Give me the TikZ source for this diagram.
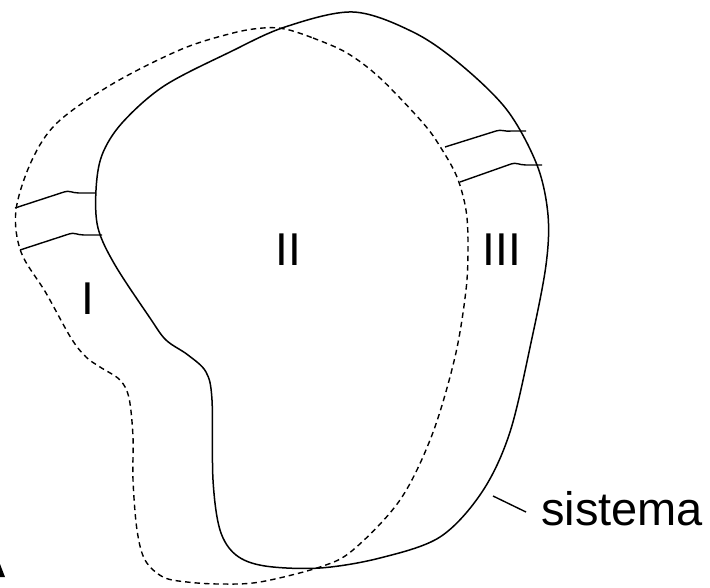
\documentclass[tikz,border=0pt]{standalone}
\usepackage{fontspec}
\setmainfont{Liberation Sans}
\begin{document}
\begin{tikzpicture}[x=1pt,y=-1pt,
  sysline/.style={line width=1.5pt,line join=round},
  cvline/.style={line width=1.4pt,dash pattern=on 5.5pt off 4pt},
  pipeline/.style={line width=1.4pt},
  lab/.style={inner sep=0pt,anchor=base,font=\fontsize{46}{46}\selectfont}]
\useasboundingbox (0,0) rectangle (710,587);
% system boundary (solid)
\draw[sysline] plot[smooth cycle,tension=0.55] coordinates {
 (353,12) (413,32) (460,64) (507,110) (537,165) (548,215) (546,265) (532,338)
 (510,432) (482,492) (440,537) (380,558) (320,568) (265,566) (236,555) (220,530)
 (213,480) (212,400) (206,372) (188,355) (166,340) (150,318) (115,265) (98,228)
 (96,190) (102,155) (122,123) (164,86) (230,52) (285,27)};
% control volume (dashed)
\draw[cvline] plot[smooth cycle,tension=0.55] coordinates {
 (285,29) (313,38) (347,53) (380,78) (423,123) (441,148) (457,177) (466,210)
 (468,245) (466,290) (455,357) (432,435) (400,500) (353,550) (320,567)
 (260,582) (220,584) (187,582) (163,577) (145,560) (137,530) (133,480) (133,437)
 (129,398) (120,380) (100,367) (86,357) (71,338) (46,293) (21,252) (16,210)
 (32,160) (58,122) (114,83) (182,49) (233,33) (263,28)};
% pipes
\coordinate (p1a) at (15,208); \coordinate (p1b) at (95,193);
\coordinate (p2a) at (20,250); \coordinate (p2b) at (102,235);
\coordinate (p3a) at (445,147); \coordinate (p3b) at (526,131);
\coordinate (p4a) at (460,182); \coordinate (p4b) at (542,165);
\draw[pipeline] (p1a) -- (64,192) .. controls (69,190) and (72,193) .. (79,193) -- (p1b);
\draw[pipeline] (p2a) -- (69,234) .. controls (74,232) and (77,235) .. (84,235) -- (p2b);
\draw[pipeline] (p3a) -- (496,131) .. controls (501,129) and (505,132) .. (512,131) -- (p3b);
\draw[pipeline] (p4a) -- (511,164) .. controls (516,162) and (519,165) .. (526,165) -- (p4b);
% labels
\node[lab] (rI) at (88,314) {I};
\node[lab] (rII) at (288,265) {II};
\node[lab] (rIII) at (502,265) {III};
\node[lab,anchor=base west,font=\fontsize{47}{47}\selectfont] (sis) at (541,525) {sistema};
\coordinate (l1) at (493,496); \coordinate (l2) at (526,512);
\draw[line width=1.4pt] (l1) -- (l2);
% cut-off glyph at lower left
\fill (0,564) -- (5,577) -- (0,577) -- cycle;
\end{tikzpicture}
\end{document}
